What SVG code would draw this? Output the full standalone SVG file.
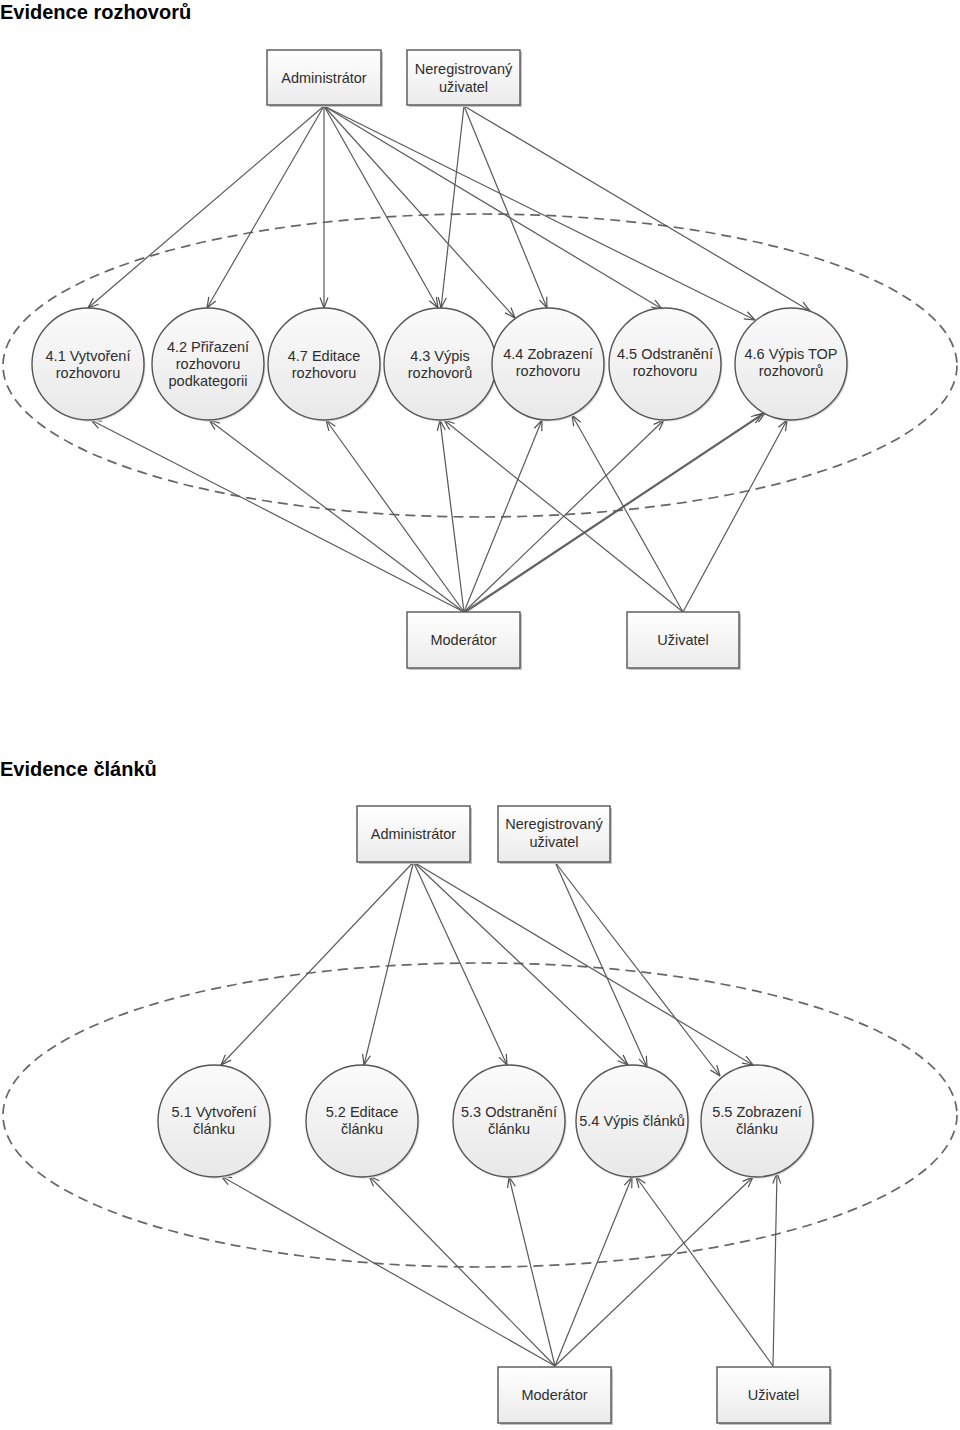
<svg xmlns="http://www.w3.org/2000/svg" width="960" height="1430" viewBox="0 0 960 1430">
<style>
.title{font-family:"Liberation Sans",Arial,sans-serif;font-size:20px;font-weight:bold;fill:#000}
.lbl{font-family:"Liberation Sans",Arial,sans-serif;font-size:14.5px;fill:#2e2e2e;text-anchor:middle}
.box{fill:url(#gbox);stroke:#555;stroke-width:1.4}
.shadow{fill:#c4c4c4}
.circ{fill:url(#gcirc);stroke:#555;stroke-width:1.4}
.cshadow{fill:#d6d6d6}
.bound{fill:none;stroke:#666;stroke-width:1.7;stroke-dasharray:10 6}
.con line{stroke:#5a5a5a;stroke-width:1.2;marker-end:url(#arr)}
</style>
<defs>
<linearGradient id="gbox" x1="0" y1="0" x2="0" y2="1"><stop offset="0" stop-color="#ffffff"/><stop offset="1" stop-color="#ebebeb"/></linearGradient>
<linearGradient id="gcirc" x1="0" y1="0" x2="0" y2="1"><stop offset="0" stop-color="#fbfbfb"/><stop offset="1" stop-color="#e8e8e8"/></linearGradient>
<marker id="arr" viewBox="0 0 12 10" refX="11.5" refY="5" markerWidth="12" markerHeight="10" markerUnits="userSpaceOnUse" orient="auto"><path d="M1,1 L11.5,5 L1,9" fill="none" stroke="#505050" stroke-width="1.2"/></marker>
</defs>
<rect width="960" height="1430" fill="#fff"/>

<text class="title" x="0" y="19">Evidence rozhovorů</text>
<text class="title" x="0" y="776">Evidence článků</text>

<ellipse class="bound" cx="480" cy="365.5" rx="477" ry="151.5"/>
<ellipse class="bound" cx="480" cy="1115" rx="477" ry="152"/>

<g id="connectors" class="con">
<line x1="324" y1="106" x2="88" y2="308"/>
<line x1="324" y1="106" x2="207" y2="308"/>
<line x1="324" y1="106" x2="324" y2="308"/>
<line x1="324" y1="106" x2="438" y2="308"/>
<line x1="324" y1="106" x2="515" y2="318"/>
<line x1="324" y1="106" x2="662" y2="309"/>
<line x1="324" y1="106" x2="755" y2="320"/>
<line x1="464" y1="106" x2="441" y2="308"/>
<line x1="464" y1="106" x2="547" y2="308"/>
<line x1="464" y1="106" x2="810" y2="311"/>
<line x1="464" y1="612" x2="91" y2="420"/>
<line x1="464" y1="612" x2="209" y2="420"/>
<line x1="464" y1="612" x2="326" y2="420"/>
<line x1="464" y1="612" x2="440" y2="420"/>
<line x1="464" y1="612" x2="542" y2="420"/>
<line x1="464" y1="612" x2="664" y2="420"/>
<line x1="464" y1="612" x2="762" y2="414"/>
<line x1="466" y1="612" x2="765" y2="413"/>
<line x1="683" y1="612" x2="444" y2="420"/>
<line x1="683" y1="612" x2="572" y2="415"/>
<line x1="683" y1="612" x2="787" y2="420"/>
<line x1="413.5" y1="862" x2="221" y2="1065"/>
<line x1="413.5" y1="862" x2="364" y2="1065"/>
<line x1="413.5" y1="862" x2="507" y2="1065"/>
<line x1="413.5" y1="862" x2="628" y2="1065"/>
<line x1="413.5" y1="862" x2="753" y2="1065"/>
<line x1="555" y1="862" x2="647" y2="1067"/>
<line x1="555" y1="862" x2="720" y2="1076"/>
<line x1="555" y1="1366" x2="221" y2="1176"/>
<line x1="555" y1="1366" x2="369" y2="1176"/>
<line x1="555" y1="1366" x2="509" y2="1177"/>
<line x1="555" y1="1366" x2="632" y2="1177"/>
<line x1="555" y1="1366" x2="753" y2="1177"/>
<line x1="773" y1="1366" x2="636" y2="1177"/>
<line x1="773" y1="1366" x2="777" y2="1173"/>
</g>

<g id="admin1"><rect class="shadow" x="269" y="52" width="114" height="55"/><rect class="box" x="267" y="50" width="114" height="55"/><text class="lbl" x="324" y="82.5">Administrátor</text></g>
<g id="nereg1"><rect class="shadow" x="409" y="52" width="113" height="55"/><rect class="box" x="407" y="50" width="113" height="55"/><text class="lbl" x="463.5" y="73.5">Neregistrovaný</text><text class="lbl" x="463.5" y="91.5">uživatel</text></g>
<g id="moder1"><rect class="shadow" x="409" y="614" width="113" height="56"/><rect class="box" x="407" y="612" width="113" height="56"/><text class="lbl" x="463.5" y="645">Moderátor</text></g>
<g id="uziv1"><rect class="shadow" x="629" y="614" width="112" height="56"/><rect class="box" x="627" y="612" width="112" height="56"/><text class="lbl" x="683" y="645">Uživatel</text></g>

<g id="n41"><circle class="cshadow" cx="89.5" cy="365.5" r="56"/><circle class="circ" cx="88" cy="364" r="56"/><text class="lbl" x="88" y="361">4.1 Vytvoření</text><text class="lbl" x="88" y="378">rozhovoru</text></g>
<g id="n42"><circle class="cshadow" cx="209.5" cy="365.5" r="56"/><circle class="circ" cx="208" cy="364" r="56"/><text class="lbl" x="208" y="352">4.2 Přiřazení</text><text class="lbl" x="208" y="369">rozhovoru</text><text class="lbl" x="208" y="386">podkategorii</text></g>
<g id="n47"><circle class="cshadow" cx="325.5" cy="365.5" r="56"/><circle class="circ" cx="324" cy="364" r="56"/><text class="lbl" x="324" y="361">4.7 Editace</text><text class="lbl" x="324" y="378">rozhovoru</text></g>
<g id="n43"><circle class="cshadow" cx="441.5" cy="365.5" r="56"/><circle class="circ" cx="440" cy="364" r="56"/><text class="lbl" x="440" y="361">4.3 Výpis</text><text class="lbl" x="440" y="378">rozhovorů</text></g>
<g id="n44"><circle class="cshadow" cx="549.5" cy="365.5" r="56"/><circle class="circ" cx="548" cy="364" r="56"/><text class="lbl" x="548" y="359">4.4 Zobrazení</text><text class="lbl" x="548" y="376">rozhovoru</text></g>
<g id="n45"><circle class="cshadow" cx="666.5" cy="365.5" r="56"/><circle class="circ" cx="665" cy="364" r="56"/><text class="lbl" x="665" y="359">4.5 Odstranění</text><text class="lbl" x="665" y="376">rozhovoru</text></g>
<g id="n46"><circle class="cshadow" cx="792.5" cy="365.5" r="56"/><circle class="circ" cx="791" cy="364" r="56"/><text class="lbl" x="791" y="359">4.6 Výpis TOP</text><text class="lbl" x="791" y="376">rozhovorů</text></g>

<g id="admin2"><rect class="shadow" x="359" y="808" width="113" height="56"/><rect class="box" x="357" y="806" width="113" height="56"/><text class="lbl" x="413.5" y="839">Administrátor</text></g>
<g id="nereg2"><rect class="shadow" x="500" y="808" width="112" height="56"/><rect class="box" x="498" y="806" width="112" height="56"/><text class="lbl" x="554" y="829">Neregistrovaný</text><text class="lbl" x="554" y="847">uživatel</text></g>
<g id="moder2"><rect class="shadow" x="500" y="1369" width="113" height="56"/><rect class="box" x="498" y="1367" width="113" height="56"/><text class="lbl" x="554.5" y="1400">Moderátor</text></g>
<g id="uziv2"><rect class="shadow" x="719" y="1369" width="113" height="56"/><rect class="box" x="717" y="1367" width="113" height="56"/><text class="lbl" x="773.5" y="1400">Uživatel</text></g>

<g id="n51"><circle class="cshadow" cx="215.5" cy="1122.5" r="56"/><circle class="circ" cx="214" cy="1121" r="56"/><text class="lbl" x="214" y="1117">5.1 Vytvoření</text><text class="lbl" x="214" y="1134">článku</text></g>
<g id="n52"><circle class="cshadow" cx="363.5" cy="1122.5" r="56"/><circle class="circ" cx="362" cy="1121" r="56"/><text class="lbl" x="362" y="1117">5.2 Editace</text><text class="lbl" x="362" y="1134">článku</text></g>
<g id="n53"><circle class="cshadow" cx="510.5" cy="1122.5" r="56"/><circle class="circ" cx="509" cy="1121" r="56"/><text class="lbl" x="509" y="1117">5.3 Odstranění</text><text class="lbl" x="509" y="1134">článku</text></g>
<g id="n54"><circle class="cshadow" cx="633.5" cy="1122.5" r="56"/><circle class="circ" cx="632" cy="1121" r="56"/><text class="lbl" x="632" y="1126">5.4 Výpis článků</text></g>
<g id="n55"><circle class="cshadow" cx="758.5" cy="1122.5" r="56"/><circle class="circ" cx="757" cy="1121" r="56"/><text class="lbl" x="757" y="1117">5.5 Zobrazení</text><text class="lbl" x="757" y="1134">článku</text></g>
</svg>
